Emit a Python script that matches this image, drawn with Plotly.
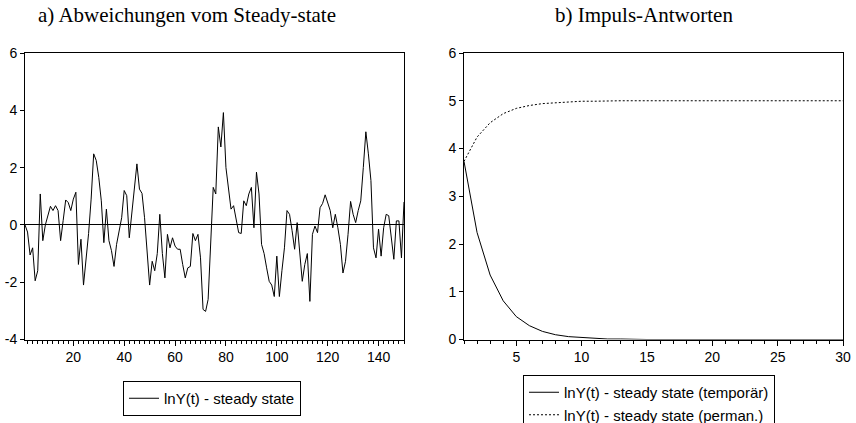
import plotly.graph_objects as go

# a) deviations from steady state, periods 1..150
periods_a = list(range(1, 151))
dev_values = [
    0.0, -0.25, -1.05, -0.8, -1.95, -1.6, 1.08, -0.55, 0.0, 0.35,
    0.65, 0.5, 0.67, 0.5, -0.55, 0.15, 0.87, 0.78, 0.5, 0.9,
    1.14, -1.38, -0.5, -2.1, -1.2, -0.3, 0.9, 2.48, 2.25, 1.66,
    0.84, -0.62, 0.55, -0.55, -0.9, -1.45, -0.68, -0.2, 0.25, 1.2,
    1.02, -0.45, 0.5, 1.2, 2.13, 1.25, 1.1, 0.25, -0.8, -2.1,
    -1.27, -1.6, -1.0, 0.37, -1.0, -1.85, -0.33, -0.8, -0.45, -0.74,
    -0.85, -0.85, -1.38, -1.85, -1.5, -1.45, -0.3, -0.55, -0.33, -1.15,
    -2.95, -3.02, -2.6, -0.8, 1.31, 1.08, 3.42, 2.72, 3.92, 2.0,
    1.3, 0.55, 0.67, 0.14, -0.27, -0.3, 0.84, 0.67, 1.08, 1.31,
    -0.1, 1.84, 1.08, -0.68, -1.0, -1.5, -1.97, -2.1, -2.5, -1.09,
    -2.5, -1.6, -0.8, 0.5, 0.37, -0.2, -0.85, 0.08, -1.0, -1.97,
    -1.38, -1.0, -2.67, -0.33, -0.04, -0.27, 0.6, 0.75, 1.05, 0.78,
    0.5, -0.1, 0.37, -0.1, -0.68, -1.68, -1.27, -0.33, 0.82, 0.37,
    0.08, 0.5, 0.84, 2.0, 3.25, 2.48, 1.55, -0.8, -1.15, -0.15,
    -1.09, -0.1, 0.37, 0.32, -0.55, -1.2, 0.14, 0.14, -1.15, 0.8,
]
y_ticks_a = [-4, -2, 0, 2, 4, 6]
y_ticklabels_a = ["-4", "-2", "0", "2", "4", "6"]
x_ticks_a = [20, 40, 60, 80, 100, 120, 140]

# b) impulse responses, periods 1..30
periods_b = list(range(1, 31))
temp_values = [
    3.73, 2.24, 1.35, 0.81, 0.48, 0.29, 0.17, 0.10, 0.06, 0.04,
    0.02, 0.01, 0.01, 0.0, 0.0, 0.0, 0.0, 0.0, 0.0, 0.0,
    0.0, 0.0, 0.0, 0.0, 0.0, 0.0, 0.0, 0.0, 0.0, 0.0,
]
perm_values = [
    3.73, 4.24, 4.54, 4.73, 4.84, 4.90, 4.94, 4.96, 4.98, 4.99,
    4.99, 5.0, 5.0, 5.0, 5.0, 5.0, 5.0, 5.0, 5.0, 5.0,
    5.0, 5.0, 5.0, 5.0, 5.0, 5.0, 5.0, 5.0, 5.0, 5.0,
]
x_ticks_b = [5, 10, 15, 20, 25, 30]

title_a = "a) Abweichungen vom Steady-state"
title_b = "b) Impuls-Antworten"
name_a = "lnY(t) - steady state"
name_temp = "lnY(t) - steady state (temporär)"
name_perm = "lnY(t) - steady state (perman.)"

W, H = 856, 423
font_sans = "Arial, Liberation Sans, sans-serif"
font_serif = "Liberation Serif, Times New Roman, serif"

fig = go.Figure()
fig.add_trace(go.Scatter(x=periods_a, y=dev_values, mode="lines", name=name_a,
                         line=dict(color="black", width=1), xaxis="x", yaxis="y",
                         legend="legend"))
fig.add_trace(go.Scatter(x=periods_b, y=temp_values, mode="lines", name=name_temp,
                         line=dict(color="black", width=1), xaxis="x2", yaxis="y2",
                         legend="legend2"))
fig.add_trace(go.Scatter(x=periods_b, y=perm_values, mode="lines", name=name_perm,
                         line=dict(color="black", width=1, dash="2px,2px"), xaxis="x2", yaxis="y2",
                         legend="legend2"))

def px_x(v):
    return v / W

def px_y(v):
    return (H - v) / H

ydom = [px_y(339.5), px_y(53)]
axis_common = dict(showline=True, linecolor="black", linewidth=1, mirror=True,
                   showgrid=False, ticks="outside", tickcolor="black",
                   tickfont=dict(family=font_sans, size=14, color="black"))
legend_common = dict(xanchor="left", yanchor="top",
                     bordercolor="black", borderwidth=1, bgcolor="white",
                     font=dict(family=font_sans, size=15, color="black"),
                     itemwidth=30, tracegroupgap=0)

fig.update_layout(
    width=W, height=H,
    margin=dict(l=0, r=0, t=0, b=0, autoexpand=False),
    paper_bgcolor="white", plot_bgcolor="white",
    font=dict(family=font_sans, color="black"),
    xaxis=dict(domain=[px_x(25), px_x(404)], range=[1, 150], anchor="y",
               tickvals=x_ticks_a, ticklen=5,
               minor=dict(ticks="outside", dtick=2, tick0=0, ticklen=3, tickcolor="black"),
               zeroline=False, **axis_common),
    yaxis=dict(domain=ydom, range=[-4, 6], anchor="x", tickvals=y_ticks_a,
               ticktext=y_ticklabels_a, ticklen=4,
               zeroline=True, zerolinecolor="black", zerolinewidth=1, **axis_common),
    xaxis2=dict(domain=[px_x(464), px_x(843)], range=[1, 30], anchor="y2",
                tickvals=x_ticks_b, ticklen=5,
                minor=dict(ticks="outside", dtick=1, tick0=0, ticklen=3, tickcolor="black"),
                zeroline=False, **axis_common),
    yaxis2=dict(domain=ydom, range=[0, 6], anchor="x2", dtick=1, ticklen=4,
                zeroline=False, **axis_common),
    legend=dict(x=px_x(123), y=px_y(381), **legend_common),
    legend2=dict(x=px_x(523), y=px_y(375), **legend_common),
    showlegend=True,
    annotations=[
        dict(text=title_a, x=px_x(187), y=px_y(15), xref="paper", yref="paper",
             showarrow=False, xanchor="center", yanchor="middle",
             font=dict(family=font_serif, size=21, color="black")),
        dict(text=title_b, x=px_x(644), y=px_y(15), xref="paper", yref="paper",
             showarrow=False, xanchor="center", yanchor="middle",
             font=dict(family=font_serif, size=21, color="black")),
    ],
)

fig.write_html("out.html", config={"displayModeBar": False},
               post_script="document.body.style.margin='0';")
